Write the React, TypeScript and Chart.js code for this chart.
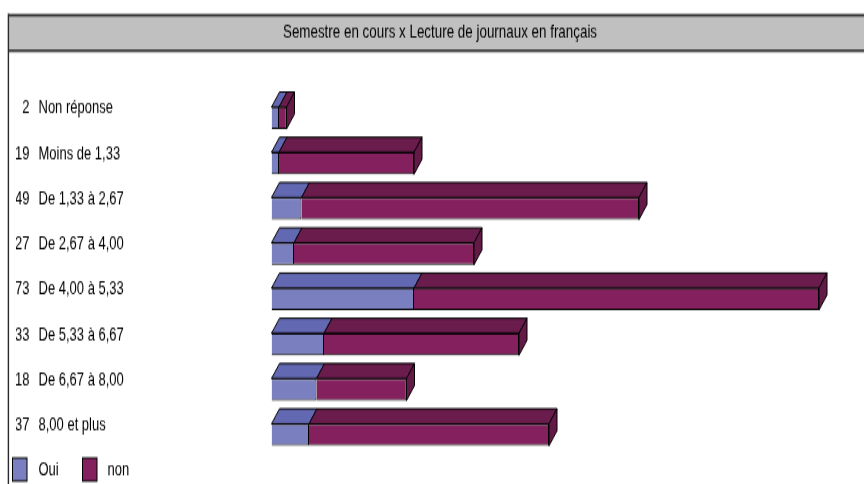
import { useEffect, useRef } from 'react';
import { Chart, registerables } from 'chart.js';

Chart.register(...registerables);

// ---- data ----
const titleText = 'Semestre en cours x Lecture de journaux en français';
const categories = [
  'Non réponse',
  'Moins de 1,33',
  'De 1,33 à 2,67',
  'De 2,67 à 4,00',
  'De 4,00 à 5,33',
  'De 5,33 à 6,67',
  'De 6,67 à 8,00',
  '8,00 et plus',
];
const totals = ['2', '19', '49', '27', '73', '33', '18', '37'];
const oui = [1, 1, 4, 3, 19, 7, 6, 5];
const non = [1, 18, 45, 24, 54, 26, 12, 32];
const seriesNames = ['Oui', 'non'];

// ---- styling ----
const FRONT = ['#7a7fc0', '#84205e'];
const TOP = ['#6368b3', '#6a1c4c'];
const SIDE = '#641a47';
const FONT = "'Liberation Sans', Arial, sans-serif";

const W = 864;
const H = 334;
const SY = 484 / H; // vertical stretch applied by CSS
const r = (v: number) => v / SY;
const DX = 8;
const DY = r(15);

const framePlugin = {
  id: 'frame',
  beforeDraw(chart: any) {
    const ctx = chart.ctx;
    ctx.save();
    ctx.fillStyle = '#ffffff';
    ctx.fillRect(0, 0, W, H);
    // title band
    ctx.fillStyle = '#c0c0c0';
    ctx.fillRect(9, r(14), W - 9, r(52) - r(14));
    ctx.fillStyle = '#909090';
    ctx.fillRect(9, r(13.5), W - 9, r(1));
    ctx.fillRect(9, r(51.5), W - 9, r(1));
    ctx.fillStyle = '#2a2a2a';
    ctx.fillRect(9, r(14.5), W - 9, r(2));
    ctx.fillRect(9, r(49.5), W - 9, r(2));
    // left border
    ctx.fillRect(7.7, r(13.5), 1.4, H - r(13.5));
    ctx.restore();
  },
};

const depthPlugin = {
  id: 'depth3d',
  beforeDatasetsDraw(chart: any) {
    const ctx = chart.ctx;
    const metas = chart.getSortedVisibleDatasetMetas();
    ctx.save();
    ctx.lineWidth = 1;
    ctx.strokeStyle = '#000000';
    ctx.lineJoin = 'miter';
    metas.forEach((meta: any, di: number) => {
      meta.data.forEach((bar: any) => {
        const p = bar.getProps(['x', 'y', 'base', 'height'], true);
        const top = p.y - p.height / 2;
        const bottom = p.y + p.height / 2;
        const left = Math.min(p.base, p.x);
        const right = Math.max(p.base, p.x);
        if (right - left <= 0) return;
        ctx.beginPath();
        ctx.moveTo(left, top);
        ctx.lineTo(left + DX, top - DY);
        ctx.lineTo(right + DX, top - DY);
        ctx.lineTo(right, top);
        ctx.closePath();
        ctx.fillStyle = TOP[di];
        ctx.fill();
        ctx.stroke();
        if (di === metas.length - 1) {
          ctx.beginPath();
          ctx.moveTo(right, top);
          ctx.lineTo(right + DX, top - DY);
          ctx.lineTo(right + DX, bottom - DY);
          ctx.lineTo(right, bottom);
          ctx.closePath();
          ctx.fillStyle = SIDE;
          ctx.fill();
          ctx.stroke();
        }
      });
    });
    ctx.restore();
  },
};

const legendPlugin = {
  id: 'customLegend',
  afterDraw(chart: any) {
    const ctx = chart.ctx;
    const boxX = [12.5, 82.5];
    const textX = [38.5, 107.5];
    ctx.save();
    ctx.font = `13px ${FONT}`;
    ctx.textBaseline = 'middle';
    ctx.textAlign = 'left';
    chart.data.datasets.forEach((ds: any, i: number) => {
      ctx.fillStyle = ds.backgroundColor;
      ctx.fillRect(boxX[i], r(458), 14.5, r(481) - r(458));
      ctx.lineWidth = 1;
      ctx.strokeStyle = '#000000';
      ctx.strokeRect(boxX[i], r(458), 14.5, r(481) - r(458));
      ctx.fillStyle = '#000000';
      ctx.fillText(ds.label, textX[i], r(469.5));
    });
    ctx.restore();
  },
};

export default function App() {
  const canvasRef = useRef<HTMLCanvasElement | null>(null);

  useEffect(() => {
    document.body.style.margin = '0';
    document.body.style.overflow = 'hidden';
    const canvas = canvasRef.current;
    if (!canvas) return;

    const titleLine = 13.4 * 1.2;
    const titleTop = r(33) - titleLine / 2;
    const areaTop = r(95.4);
    const areaBottom = r(457.4);

    const chart = new Chart(canvas, {
      type: 'bar',
      data: {
        labels: categories,
        datasets: [
          {
            label: seriesNames[0],
            data: oui,
            backgroundColor: FRONT[0],
            borderColor: '#000000',
            borderWidth: 1,
            yAxisID: 'y',
            xAxisID: 'x',
          },
          {
            label: seriesNames[1],
            data: non,
            backgroundColor: FRONT[1],
            borderColor: '#000000',
            borderWidth: 1,
            yAxisID: 'y',
            xAxisID: 'x',
          },
        ],
      },
      options: {
        indexAxis: 'y',
        animation: false,
        responsive: true,
        maintainAspectRatio: false,
        devicePixelRatio: 1,
        barPercentage: r(22) / ((areaBottom - areaTop) / categories.length),
        categoryPercentage: 1,
        layout: {
          padding: { left: 16, right: 0, top: 0, bottom: H - areaBottom },
        },
        plugins: {
          legend: { display: false },
          tooltip: { enabled: false },
          title: {
            display: true,
            text: titleText,
            color: '#000000',
            font: { family: FONT, size: 13.4, weight: 'normal', lineHeight: 1.2 },
            padding: { top: titleTop, bottom: areaTop - titleTop - titleLine },
          },
        },
        scales: {
          y: {
            type: 'category',
            position: 'left',
            stacked: true,
            offset: true,
            weight: 1,
            grid: { display: false, drawTicks: false, tickLength: 0, offset: true },
            border: { display: false },
            ticks: {
              crossAlign: 'far',
              padding: 0,
              labelOffset: r(-9.5),
              autoSkip: false,
              color: '#000000',
              font: { family: FONT, size: 13 },
            },
            afterFit: (scale: any) => {
              scale.width = 271.5 - 38.5;
            },
          },
          yc: {
            type: 'category',
            position: 'left',
            labels: totals,
            offset: true,
            weight: 2,
            grid: { display: false, drawTicks: false, tickLength: 0, offset: true },
            border: { display: false },
            ticks: {
              crossAlign: 'near',
              padding: 9,
              labelOffset: r(-9.5),
              autoSkip: false,
              color: '#000000',
              font: { family: FONT, size: 13 },
            },
            afterFit: (scale: any) => {
              scale.width = 38.5 - 16;
            },
          },
          x: {
            type: 'linear',
            stacked: true,
            min: 0,
            max: 79,
            display: false,
          },
        },
      },
      plugins: [framePlugin, depthPlugin, legendPlugin],
    } as any);

    return () => chart.destroy();
  }, []);

  return (
    <div
      style={{
        position: 'absolute',
        left: 0,
        top: 0,
        width: W,
        height: H,
        transform: `scaleY(${SY})`,
        transformOrigin: '0 0',
      }}
    >
      <canvas ref={canvasRef} />
    </div>
  );
}
